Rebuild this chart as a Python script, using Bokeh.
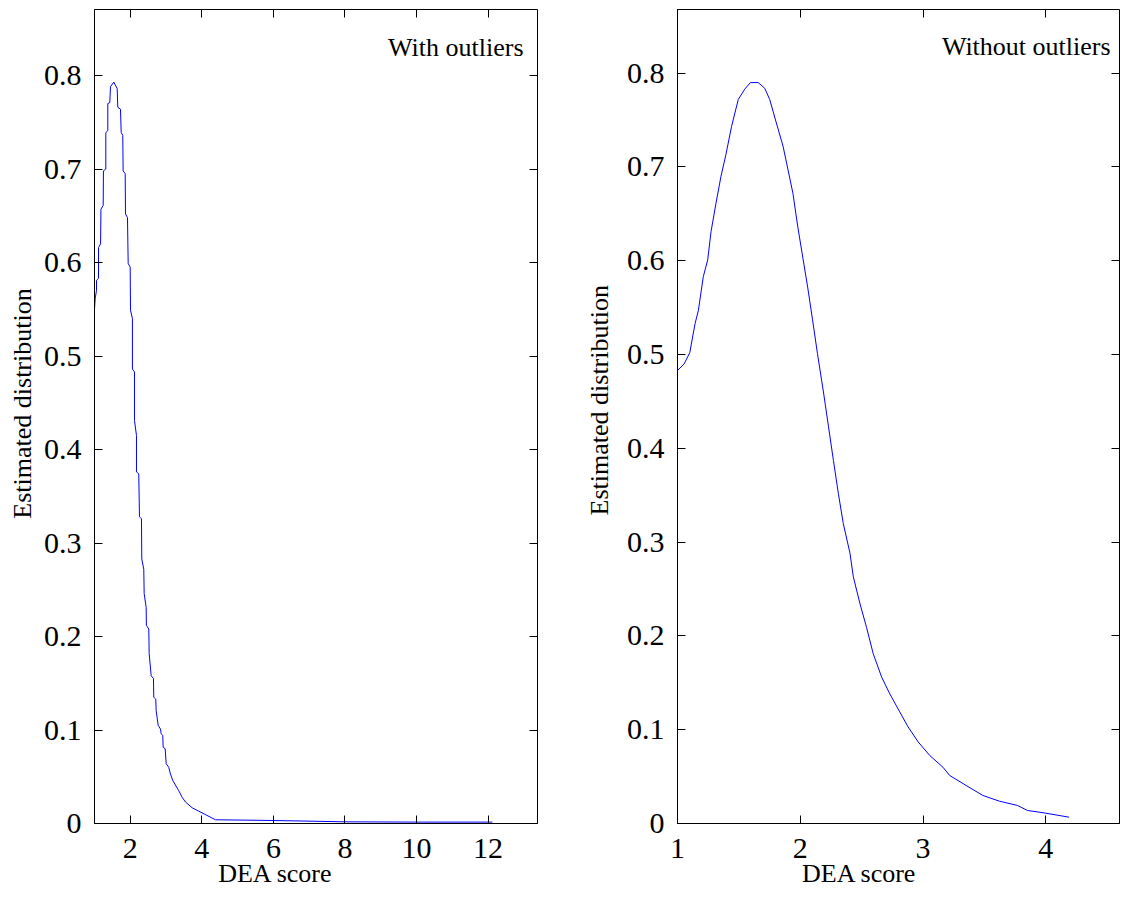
from bokeh.plotting import figure
from bokeh.models import Label, LinearAxis, FixedTicker, Range1d
from bokeh.layouts import row
from bokeh.embed import file_html
from bokeh.resources import INLINE

# ---------------- data ----------------
with_x = [1.0, 1.02, 1.056, 1.056, 1.112, 1.112, 1.17, 1.18, 1.243, 1.25, 1.316, 1.316,
          1.372, 1.372, 1.427, 1.447, 1.539, 1.634, 1.651, 1.726, 1.746, 1.79, 1.80,
          1.858, 1.866, 1.922, 1.941, 1.997, 2.006, 2.06, 2.06, 2.117, 2.117, 2.173, 2.173,
          2.237, 2.257, 2.313, 2.321, 2.377, 2.388, 2.444, 2.45, 2.517, 2.528, 2.584,
          2.648, 2.656, 2.712, 2.723, 2.779, 2.844, 2.863, 2.908, 2.919, 2.975, 3.003,
          3.075, 3.123, 3.187, 3.355, 3.45, 3.542, 3.729, 3.913, 4.38, 6.0, 8.0, 10.0, 12.12]
with_y = [0.55, 0.562, 0.570, 0.581, 0.583, 0.616, 0.620, 0.657, 0.661, 0.698, 0.700, 0.739,
          0.741, 0.770, 0.771, 0.788, 0.793, 0.786, 0.766, 0.764, 0.739, 0.736, 0.698,
          0.695, 0.652, 0.648, 0.599, 0.595, 0.549, 0.540, 0.486, 0.483, 0.431, 0.415, 0.376,
          0.374, 0.328, 0.326, 0.283, 0.272, 0.246, 0.231, 0.212, 0.208, 0.1815, 0.158,
          0.155, 0.135, 0.133, 0.121, 0.105, 0.101, 0.096, 0.094, 0.0816, 0.080, 0.064,
          0.060, 0.053, 0.046, 0.035, 0.028, 0.023, 0.0168, 0.0132, 0.004, 0.0032, 0.0018, 0.0015, 0.0015]

without_x = [1.0, 1.054, 1.10, 1.143, 1.17, 1.21, 1.246, 1.273, 1.313, 1.354, 1.394, 1.44,
             1.495, 1.548, 1.594, 1.657, 1.71, 1.751, 1.805, 1.86, 1.90, 1.94, 1.98, 2.02,
             2.06, 2.10, 2.14, 2.19, 2.23, 2.27, 2.31, 2.35, 2.405, 2.432, 2.487, 2.54,
             2.594, 2.663, 2.73, 2.81, 2.878, 2.96, 3.054, 3.162, 3.217, 3.35, 3.487,
             3.622, 3.77, 3.85, 4.0, 4.19]
without_y = [0.483, 0.490, 0.502, 0.533, 0.547, 0.583, 0.601, 0.631, 0.661, 0.690, 0.713, 0.743,
             0.772, 0.783, 0.790, 0.790, 0.784, 0.772, 0.747, 0.722, 0.697, 0.672, 0.636, 0.604,
             0.572, 0.537, 0.501, 0.459, 0.423, 0.387, 0.352, 0.320, 0.288, 0.263, 0.234, 0.209,
             0.181, 0.156, 0.138, 0.119, 0.103, 0.087, 0.0726, 0.060, 0.0512, 0.0406, 0.0299,
             0.0238, 0.0192, 0.0139, 0.011, 0.0067]

y_ticks = [0, 0.1, 0.2, 0.3, 0.4, 0.5, 0.6, 0.7, 0.8]
y_tick_labels = ["0", "0.1", "0.2", "0.3", "0.4", "0.5", "0.6", "0.7", "0.8"]
left_x_ticks = [2, 4, 6, 8, 10, 12]
left_x_tick_labels = ["2", "4", "6", "8", "10", "12"]
right_x_ticks = [1, 2, 3, 4]
right_x_tick_labels = ["1", "2", "3", "4"]

x_label = "DEA score"
y_label = "Estimated distribution"
left_title = "With outliers"
right_title = "Without outliers"

FONT = "Liberation Serif"
TICK_FS = "30px"
LABEL_FS = "26px"
NBSP = "\u00a0"


def style_axis(ax, ticks, labels, standoff):
    ax.ticker = FixedTicker(ticks=ticks)
    ax.major_label_overrides = dict(zip(ticks, labels))
    ax.major_tick_in = 8
    ax.major_tick_out = 0
    ax.minor_tick_line_color = None
    ax.axis_line_color = "black"
    ax.major_tick_line_color = "black"
    ax.major_label_text_font = FONT
    ax.major_label_text_font_size = TICK_FS
    ax.major_label_text_color = "black"
    ax.major_label_standoff = standoff


def mirror_axis(ticks):
    ax = LinearAxis(ticker=FixedTicker(ticks=ticks))
    ax.major_tick_in = 8
    ax.major_tick_out = 0
    ax.minor_tick_line_color = None
    ax.axis_line_color = None
    ax.major_tick_line_color = "black"
    ax.major_label_text_font_size = "0px"
    ax.major_label_standoff = -12
    ax.major_label_overrides = {t: "" for t in ticks}
    return ax


def xlabel_axis(pos):
    # an axis carrying only the x-axis title, centred where the reference puts it
    ax = LinearAxis(ticker=FixedTicker(ticks=[pos]))
    ax.major_label_overrides = {pos: x_label}
    ax.major_tick_in = 0
    ax.major_tick_out = 0
    ax.major_tick_line_color = None
    ax.minor_tick_line_color = None
    ax.axis_line_color = None
    ax.major_label_text_font = FONT
    ax.major_label_text_font_size = LABEL_FS
    ax.major_label_text_color = "black"
    ax.major_label_standoff = -2
    return ax


def make_panel(xs, ys, xr, yr, xticks, xlabels, border_left, border_right, border_top,
               frame_h, title, title_x, title_y, xl_x, frame_w, ylabel_pad, ylabel_standoff):
    p = figure(frame_width=frame_w, frame_height=frame_h,
               x_range=Range1d(*xr), y_range=Range1d(*yr),
               output_backend="svg", toolbar_location=None, title=None,
               min_border_left=border_left, min_border_right=border_right,
               min_border_top=border_top, min_border_bottom=896 - border_top - frame_h)
    p.xgrid.grid_line_color = None
    p.ygrid.grid_line_color = None
    p.outline_line_color = "black"
    p.outline_line_width = 1
    p.outline_line_alpha = 1.0
    p.background_fill_color = "white"
    p.border_fill_color = "white"

    style_axis(p.xaxis[0], xticks, xlabels, 15)
    style_axis(p.yaxis[0], y_ticks, y_tick_labels, 13)
    p.yaxis[0].axis_label = NBSP * ylabel_pad + y_label
    p.yaxis[0].axis_label_text_font = FONT
    p.yaxis[0].axis_label_text_font_size = LABEL_FS
    p.yaxis[0].axis_label_text_font_style = "normal"
    p.yaxis[0].axis_label_text_color = "black"
    p.yaxis[0].axis_label_standoff = ylabel_standoff

    p.add_layout(mirror_axis(xticks), "above")
    p.add_layout(mirror_axis(y_ticks), "right")
    p.add_layout(xlabel_axis(xl_x), "below")

    p.line(xs, ys, line_color="#0000ff", line_width=1)

    p.add_layout(Label(x=title_x, y=title_y, text=title, text_align="right",
                       text_baseline="alphabetic", text_font=FONT,
                       text_font_size=LABEL_FS, text_color="black"))
    return p


left = make_panel(with_x, with_y, (1.0, 13.38), (0, 0.8706), left_x_ticks, left_x_tick_labels,
                  94, 3, 9, 814, left_title, 12.99, 0.830, 6.06, 443, 4, 4)
right = make_panel(without_x, without_y, (1.0, 4.6), (0, 0.8679), right_x_ticks, right_x_tick_labels,
                   137, 4, 9, 814, right_title, 4.527, 0.8285, 2.482, 442, 5, 10)

layout = row(left, right)

open("out.html", "w").write(file_html(layout, INLINE))
